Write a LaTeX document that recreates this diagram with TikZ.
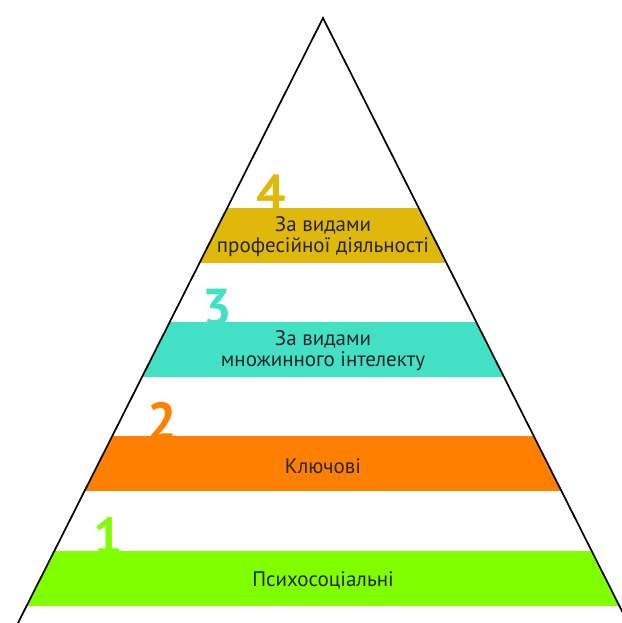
\documentclass[tikz,border=0pt]{standalone}
\usepackage{fontspec}
\setmainfont{PT Sans}
\usetikzlibrary{positioning}
\definecolor{lvlgold}{RGB}{224,184,12}
\definecolor{lvlteal}{RGB}{66,224,196}
\definecolor{lvlorange}{RGB}{255,128,0}
\definecolor{lvlgreen}{RGB}{128,255,0}

\begin{document}
\begin{tikzpicture}[
    x=1pt, y=-1pt,
    bandtext/.style={align=center, text=black!85, font=\fontsize{21}{21}\selectfont},
    levelnum/.style={anchor=base west, inner sep=0pt, font=\fontsize{52}{52}\selectfont\bfseries},
    edge/.style={draw=black, line width=1.7pt}
]
    \useasboundingbox (0,0) rectangle (621,623);

    % Bands, cut to the pyramid
    \begin{scope}
        \clip (323,18) -- (18,623) -- (628,623) -- cycle;
        \fill[lvlgold] (0,208) rectangle (621,263);
        \fill[lvlteal] (0,322) rectangle (621,377);
        \fill[lvlorange] (0,436) rectangle (621,491);
        \fill[lvlgreen] (0,551) rectangle (621,606);
    \end{scope}

    % Pyramid sides
    \coordinate (apex) at (323,18);
    \coordinate (baseL) at (18,623);
    \coordinate (baseR) at (628,623);
    \draw[edge] (baseL) -- (apex) -- (baseR);

    % Level numbers
    \node[levelnum, text=lvlgold] (n4) at (256,211) {4};
    \node[levelnum, text=lvlteal] (n3) at (202,325) {3};
    \node[levelnum, text=lvlorange] (n2) at (147,439) {2};
    \node[levelnum, text=lvlgreen] (n1) at (93,554) {1};

    % Level names
    \node[bandtext] (t4) at (323,237) {За видами\\професійної діяльності};
    \node[bandtext] (t3) at (323,351) {За видами\\множинного інтелекту};
    \node[bandtext] (t2) at (323,466) {Ключові};
    \node[bandtext] (t1) at (323,580) {Психосоціальні};
\end{tikzpicture}
\end{document}
